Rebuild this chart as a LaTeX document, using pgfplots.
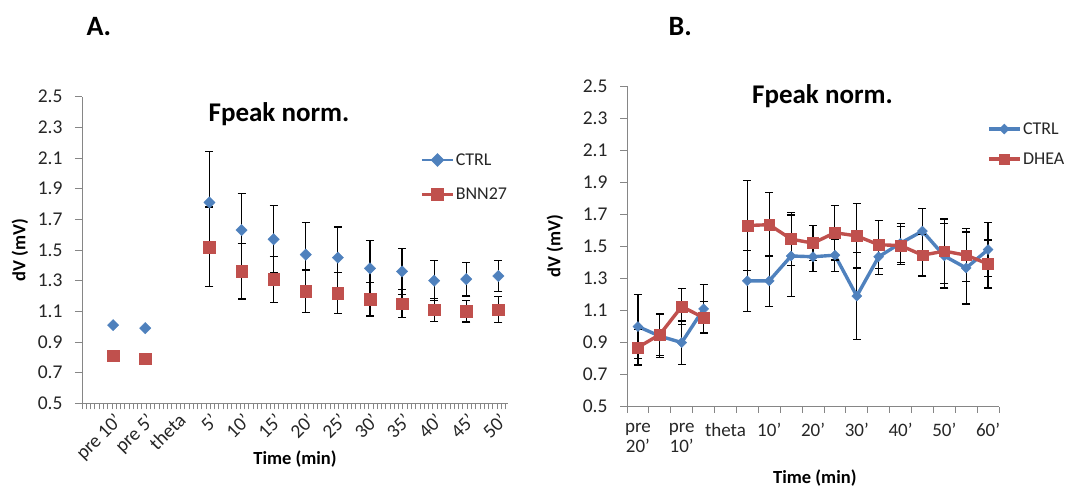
\documentclass[border=0pt]{standalone}
\usepackage{pgfplots}
\pgfplotsset{compat=1.18}
\usepackage{pgfplotstable}
\usepackage{fontspec}
\setmainfont{Carlito}
\definecolor{cblue}{HTML}{4F81BD}
\definecolor{cred}{HTML}{C0504D}
\definecolor{axgray}{HTML}{868686}

\pgfplotstableread{
x y e
0 1.01 0
1 0.99 0
3 1.81 0.33
4 1.63 0.24
5 1.57 0.22
6 1.47 0.21
7 1.45 0.20
8 1.38 0.18
9 1.36 0.15
10 1.30 0.13
11 1.31 0.11
12 1.33 0.10
}\Actrl
\pgfplotstableread{
x y e
0 0.81 0
1 0.79 0
3 1.52 0.26
4 1.36 0.18
5 1.31 0.15
6 1.23 0.14
7 1.22 0.135
8 1.18 0.11
9 1.15 0.09
10 1.11 0.075
11 1.10 0.07
12 1.11 0.085
}\Abnn
\pgfplotstableread{
x y e
0 1.00 0.20
1 0.94 0.135
2 0.90 0.135
3 1.11 0.15
4 nan 0
5 1.285 0.19
6 1.285 0.16
7 1.44 0.255
8 1.435 0.09
9 1.445 0.10
10 1.19 0.27
11 1.435 0.11
12 1.52 0.12
13 1.595 0.14
14 1.44 0.20
15 1.365 0.225
16 1.48 0.17
}\Bctrl
\pgfplotstableread{
x y e
0 0.87 0.11
1 0.95 0.13
2 1.125 0.11
3 1.055 0.10
4 nan 0
5 1.63 0.28
6 1.635 0.20
7 1.545 0.165
8 1.52 0.11
9 1.585 0.17
10 1.565 0.20
11 1.51 0.15
12 1.505 0.12
13 1.445 0.13
14 1.47 0.20
15 1.445 0.165
16 1.39 0.15
}\Bdhea

\pgfplotsset{
  excel/.style={
    scale only axis,
    axis lines*=left,
    axis line style={axgray, line width=0.9pt, -},
    tick style={axgray, line width=0.9pt},
    tick align=outside,
    major tick length=7pt,
    minor tick length=6pt,
    ymin=0.5, ymax=2.5,
    ytick={0.5,0.7,0.9,1.1,1.3,1.5,1.7,1.9,2.1,2.3,2.5},
    yticklabels={0.5,0.7,0.9,1.1,1.3,1.5,1.7,1.9,2.1,2.3,2.5},
    yticklabel style={font=\fontsize{19.5}{22}\selectfont, text=black!85, xshift=-9pt},
    major x tick style={draw=none},
    ylabel={dV (mV)},
    ylabel style={font=\fontsize{18.5}{20}\selectfont\bfseries, rotate=0, anchor=center},
    xlabel={Time (min)},
    xlabel style={font=\fontsize{18.5}{20}\selectfont\bfseries, anchor=base},
    legend style={draw=none, fill=none, inner sep=0pt, outer sep=0pt,
      font=\fontsize{18}{18}\selectfont, text=black!85,
      nodes={inner sep=1.5pt}},
    legend cell align=left,
    legend image code/.code={\draw[mark repeat=2, mark phase=2, #1] plot coordinates {(0pt,0pt) (15.5pt,0pt) (31pt,0pt)};},
    error bars/error bar style={black, line width=1.2pt},
    error bars/error mark options={rotate=90, black, mark size=4pt, line width=1.2pt},
    clip=false,
  }
}

\begin{document}
\begin{tikzpicture}
% Panel A
\begin{axis}[excel,
  at={(82pt,82.7pt)}, anchor=south west,
  width=426pt, height=306.6pt,
  xmin=-0.97, xmax=12.3,
  xtick={0,...,12},
  xticklabels={pre 10',pre 5',theta,5',10',15',20',25',30',35',40',45',50'},
  minor xtick={-0.97,-0.8367,...,12.3},
  xticklabel style={font=\fontsize{19.5}{22}\selectfont, text=black!85, rotate=45, anchor=north east, inner sep=1pt},
  ylabel style={at={(axis description cs:-0.1455,0.5)}},
  xlabel style={at={(axis description cs:0.5,-0.201)}},
  legend style={at={(axis description cs:0.795,0.820)}, anchor=north west, row sep=18.5pt},
]
\addlegendimage{cblue, line width=2.6pt, mark=square*, mark options={rotate=45, mark size=3.6pt, solid, fill=cblue}}
\addlegendentry{CTRL}
\addlegendimage{cred, line width=2.6pt, mark=square*, mark options={mark size=5pt, solid, fill=cred}}
\addlegendentry{BNN27}
\addplot[forget plot, only marks, mark=square*, color=cblue, mark options={rotate=45, mark size=4pt, fill=cblue, draw=cblue},
  error bars/.cd, y dir=both, y explicit] table[x=x, y=y, y error=e] {\Actrl};
\addplot[forget plot, only marks, mark=square*, color=cred, mark options={mark size=5.8pt, fill=cred, draw=cred},
  error bars/.cd, y dir=both, y explicit] table[x=x, y=y, y error=e] {\Abnn};
\node[anchor=base, font=\fontsize{27}{27}\selectfont\bfseries] at (axis description cs:0.4624,0.918) {Fpeak norm.};
\end{axis}

% Panel B
\begin{axis}[excel,
  at={(627pt,79.3pt)}, anchor=south west,
  width=372pt, height=320.7pt,
  xmin=-0.5, xmax=16.5,
  xtick={0,2,...,16},
  xticklabels={{pre\\20'},{pre\\10'},theta,10',20',30',40',50',60'},
  minor xtick={-0.5,0.5,...,16.5},
  xticklabel style={font=\fontsize{19}{20}\selectfont, text=black!85, align=center, anchor=north, inner sep=1pt, yshift=-8pt},
  unbounded coords=jump,
  ylabel style={at={(axis description cs:-0.1935,0.5)}},
  xlabel style={at={(axis description cs:0.505,-0.241)}},
  legend style={at={(axis description cs:0.968,0.891)}, anchor=north west, row sep=14pt},
]
\addplot[color=cblue, line width=3.4pt, mark=square*, mark options={rotate=45, mark size=3.5pt, fill=cblue, solid, line width=0.5pt},
  error bars/.cd, y dir=both, y explicit] table[x=x, y=y, y error=e] {\Bctrl};
\addlegendentry{CTRL}
\addplot[color=cred, line width=3.4pt, mark=square*, mark options={mark size=5.4pt, fill=cred, solid, line width=0.5pt},
  error bars/.cd, y dir=both, y explicit] table[x=x, y=y, y error=e] {\Bdhea};
\addlegendentry{DHEA}
\node[anchor=base, font=\fontsize{27}{27}\selectfont\bfseries] at (axis description cs:0.5255,0.944) {Fpeak norm.};
\end{axis}

\node[anchor=base west, font=\fontsize{28}{28}\selectfont\bfseries] at (83pt,450pt) {A.};
\node[anchor=base west, font=\fontsize{28}{28}\selectfont\bfseries] at (665pt,450pt) {B.};

\pgfresetboundingbox
\path (0pt,0pt) rectangle (1067pt,486pt);
\end{tikzpicture}
\end{document}
